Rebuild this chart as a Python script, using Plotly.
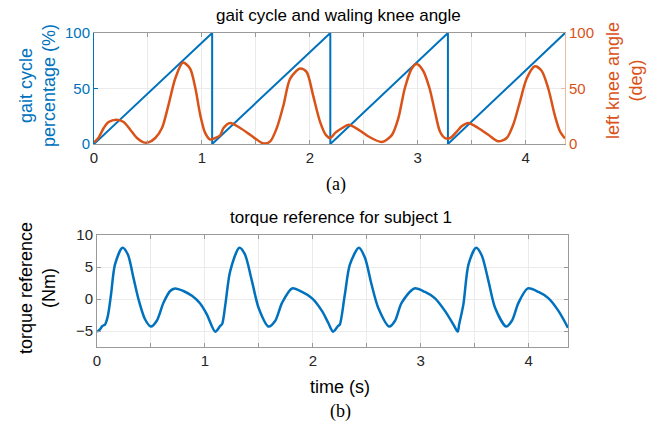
import plotly.graph_objects as go

# ---------------- data ----------------
t_gait = [0, 1.095, 1.095, 2.19, 2.19, 3.28, 3.28, 4.365]
gait_pct = [0, 100, 0, 100, 0, 100, 0, 100]

t_knee = [0, 0.04, 0.09, 0.135, 0.21, 0.275, 0.336, 0.398, 0.46, 0.505, 0.568, 0.63,
          0.69, 0.753, 0.824, 0.89, 0.94, 0.985, 1.03, 1.077, 1.123, 1.17, 1.2, 1.262,
          1.355, 1.447, 1.57, 1.633, 1.694, 1.756, 1.818, 1.91, 1.97, 2.03, 2.095, 2.15,
          2.19, 2.235, 2.3, 2.36, 2.45, 2.54, 2.667, 2.76, 2.82, 2.88, 2.945, 2.99, 3.05,
          3.11, 3.16, 3.207, 3.253, 3.3, 3.36, 3.407, 3.47, 3.56, 3.654, 3.746, 3.824,
          3.885, 3.947, 4.01, 4.086, 4.148, 4.21, 4.27, 4.32, 4.365]
knee_deg = [1.5, 5.4, 14.4, 19.8, 21.9, 19.8, 12.9, 5.4, 1.5, 1.5, 5.4, 14.4,
            35, 59, 73.4, 68, 50, 26, 10, 4, 5.4, 7.9, 14.4, 18.9,
            14.4, 8.4, 0.5, 2.4, 14.4, 35, 59, 68, 65, 44, 20, 8,
            5.4, 10, 14.4, 17.3, 13, 7, 1.8, 8, 23, 50, 68, 72, 66,
            50, 29, 11, 5.4, 5.4, 11, 16, 19, 14.4, 8.4, 2.4, 5.4,
            17.3, 38, 59, 70, 66, 50, 26, 11, 5]

t_torque = [0, 0.028, 0.05, 0.074, 0.1, 0.13, 0.167, 0.236, 0.285, 0.338, 0.384, 0.446,
            0.5, 0.554, 0.616, 0.678, 0.724, 0.8, 0.88, 0.956, 1.018, 1.096, 1.142, 1.16,
            1.19, 1.235, 1.32, 1.37, 1.436, 1.498, 1.59, 1.652, 1.715, 1.808, 1.9, 1.994,
            2.086, 2.142, 2.188, 2.235, 2.25, 2.297, 2.344, 2.427, 2.483, 2.544, 2.607,
            2.709, 2.762, 2.823, 2.941, 3.04, 3.133, 3.226, 3.303, 3.343, 3.356, 3.396,
            3.443, 3.514, 3.566, 3.628, 3.69, 3.792, 3.845, 3.906, 3.993, 4.092, 4.185,
            4.278, 4.365]
torque_nm = [-5.1, -4.75, -4.2, -4.0, -2.7, 0.7, 5.4, 8.0, 7.0, 3.3, 0, -3.2,
             -4.3, -3.4, -0.6, 1.25, 1.65, 1.25, 0.5, -0.7, -2.4, -5.1, -4.2, -3.9,
             -0.8, 4.4, 8.0, 7.0, 2.8, -1.4, -4.3, -3.4, -0.6, 1.65, 1.1, 0.1,
             -1.9, -3.7, -5.1, -4.2, -4.0, 0.7, 5.4, 8.0, 6.45, 2.3, -1.4,
             -4.3, -3.4, -0.6, 1.65, 1.1, 0.1, -1.9, -4.0, -5.1, -4.0, -0.8,
             5.4, 8.0, 6.8, 2.8, -1.4, -4.3, -3.4, -0.6, 1.65, 1.1, 0.1,
             -1.9, -4.5]

x_tickvals = [0, 0.5, 1, 1.5, 2, 2.5, 3, 3.5, 4]
x_ticktext = ["0", "", "1", "", "2", "", "3", "", "4"]

# ---------------- style ----------------
BLUE = "#0072BD"
ORANGE = "#D95319"
BOX = "#9a9a9a"
GRID = "#ebebeb"
W, H = 658, 427
FONT = "Liberation Sans, Arial, sans-serif"
SERIF = "Liberation Serif, Times New Roman, serif"

def px_x(x):
    return x / W

def px_y(y):
    return 1 - y / H

fig = go.Figure()

fig.add_trace(go.Scatter(x=t_gait, y=gait_pct, mode="lines",
                         line=dict(color=BLUE, width=2), xaxis="x", yaxis="y",
                         showlegend=False))
fig.add_trace(go.Scatter(x=t_knee, y=knee_deg, mode="lines",
                         line=dict(color=ORANGE, width=2.5, shape="spline", smoothing=0.8),
                         xaxis="x", yaxis="y2", showlegend=False))
fig.add_trace(go.Scatter(x=t_torque, y=torque_nm, mode="lines",
                         line=dict(color=BLUE, width=2.5, shape="spline", smoothing=0.8),
                         xaxis="x2", yaxis="y3", showlegend=False))

tickfont = dict(family=FONT, size=15, color="#262626")

xcommon = dict(range=[0, 4.365], tickvals=x_tickvals, ticktext=x_ticktext,
               ticks="inside", ticklen=4, tickcolor=BOX, showline=True, linecolor=BOX,
               linewidth=1, mirror="ticks", showgrid=True, gridcolor=GRID, gridwidth=1,
               zeroline=False, tickfont=tickfont, fixedrange=True, automargin=False)

fig.update_layout(
    width=W, height=H,
    margin=dict(l=0, r=0, t=0, b=0, pad=0, autoexpand=False),
    paper_bgcolor="white", plot_bgcolor="white",
    xaxis=dict(domain=[px_x(94), px_x(565)], anchor="y", **xcommon),
    yaxis=dict(domain=[px_y(144), px_y(33)], range=[0, 100], tickvals=[0, 50, 100],
               ticks="inside", ticklen=4, tickcolor=BLUE, showline=True, linecolor=BLUE,
               linewidth=1, showgrid=True, gridcolor=GRID, zeroline=False, automargin=False,
               tickfont=dict(family=FONT, size=15, color=BLUE), anchor="x"),
    yaxis2=dict(overlaying="y", side="right", anchor="x", range=[0, 100],
                tickvals=[0, 50, 100], ticks="inside", ticklen=4, tickcolor="#eab8a3",
                showline=True, linecolor="#eab8a3", linewidth=1, showgrid=False,
                zeroline=False, automargin=False,
                tickfont=dict(family=FONT, size=15, color=ORANGE)),
    xaxis2=dict(domain=[px_x(97), px_x(568)], anchor="y3", **xcommon),
    yaxis3=dict(domain=[px_y(347), px_y(235)], range=[-7.5, 10], tickvals=[-5, 0, 5, 10],
                ticks="inside", ticklen=4, tickcolor=BOX, showline=True, linecolor=BOX,
                linewidth=1, mirror="ticks", showgrid=True, gridcolor=GRID, zeroline=False,
                automargin=False,
                tickfont=dict(family=FONT, size=15, color="#262626"), anchor="x2"),
)

def ann(text, x, y, size=18, color="#000000", angle=0, family=FONT):
    fig.add_annotation(text=text, x=px_x(x), y=px_y(y), xref="paper", yref="paper",
                       showarrow=False, textangle=angle, xanchor="center", yanchor="middle",
                       font=dict(family=family, size=size, color=color))

ann("gait cycle and waling knee angle", 338, 15, size=17)
ann("gait cycle<br>percentage (%)", 37, 86, size=18, color=BLUE, angle=-90)
ann("left knee angle<br>(deg)", 624, 81, size=18, color=ORANGE, angle=-90)
ann("(a)", 336, 184, size=18, family=SERIF)
ann("torque reference for subject 1", 341, 217, size=17)
ann("torque reference<br>(Nm)", 37, 288, size=18, angle=-90)
ann("time (s)", 340, 387, size=18)
ann("(b)", 340, 411, size=18, family=SERIF)

fig.write_html("out.html")
